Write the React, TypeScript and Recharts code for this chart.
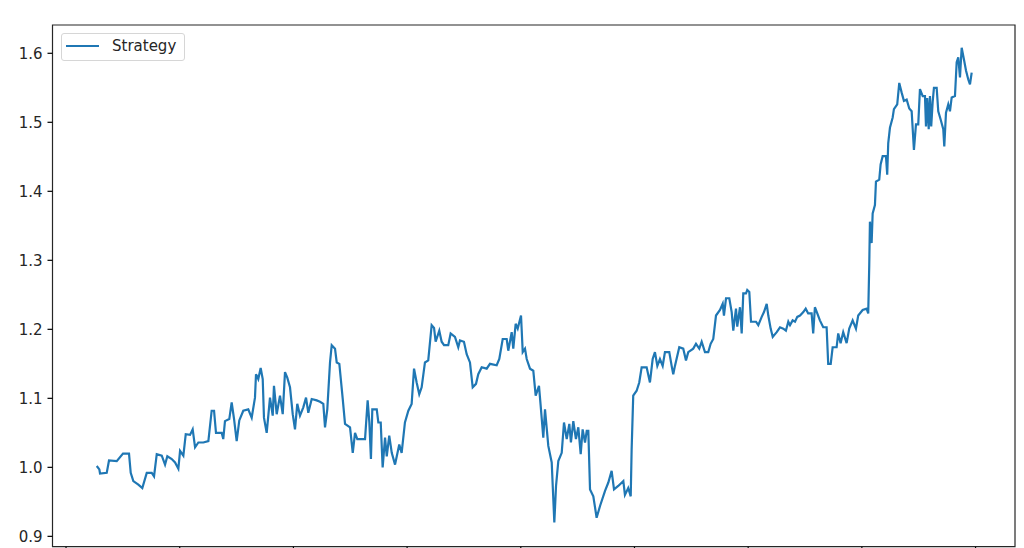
import React from 'react';
import { LineChart, Line, XAxis, YAxis, Legend, ReferenceArea } from 'recharts';

// Time in years since the start of 2015 (x axis)
const yearOffset = [
  0.270, 0.293, 0.299, 0.358, 0.378, 0.446, 0.501, 0.554, 0.569, 0.592, 0.636, 0.671, 0.710, 0.754, 0.774, 0.798,
  0.842, 0.871, 0.891, 0.930, 0.959, 0.988, 1.003, 1.032, 1.053, 1.091, 1.114, 1.135, 1.164, 1.208, 1.252, 1.281,
  1.302, 1.319, 1.369, 1.383, 1.398, 1.436, 1.457, 1.478, 1.501, 1.524, 1.559, 1.603, 1.633, 1.662, 1.671, 1.691,
  1.712, 1.730, 1.741, 1.765, 1.794, 1.818, 1.829, 1.853, 1.882, 1.906, 1.926, 1.946, 1.970, 1.994, 2.014, 2.034,
  2.058, 2.087, 2.111, 2.131, 2.161, 2.205, 2.234, 2.263, 2.278, 2.298, 2.322, 2.337, 2.366, 2.381, 2.404, 2.434,
  2.454, 2.498, 2.522, 2.542, 2.562, 2.630, 2.653, 2.668, 2.682, 2.694, 2.733, 2.747, 2.768, 2.785, 2.806, 2.821,
  2.843, 2.865, 2.894, 2.931, 2.952, 2.981, 3.011, 3.040, 3.061, 3.084, 3.107, 3.128, 3.157, 3.186, 3.216, 3.237,
  3.251, 3.283, 3.304, 3.325, 3.362, 3.383, 3.421, 3.450, 3.465, 3.500, 3.524, 3.553, 3.577, 3.606, 3.626, 3.656,
  3.700, 3.729, 3.788, 3.811, 3.841, 3.876, 3.890, 3.920, 3.934, 3.955, 3.973, 4.002, 4.017, 4.037, 4.052, 4.081,
  4.110, 4.131, 4.160, 4.175, 4.198, 4.213, 4.242, 4.272, 4.295, 4.310, 4.330, 4.360, 4.380, 4.404, 4.427, 4.441,
  4.462, 4.485, 4.506, 4.527, 4.544, 4.565, 4.580, 4.594, 4.609, 4.638, 4.667, 4.697, 4.741, 4.770, 4.799, 4.820,
  4.857, 4.902, 4.916, 4.945, 4.967, 4.975, 4.989, 5.019, 5.042, 5.063, 5.107, 5.136, 5.160, 5.180, 5.201, 5.224,
  5.248, 5.268, 5.306, 5.327, 5.341, 5.356, 5.394, 5.429, 5.453, 5.473, 5.517, 5.541, 5.570, 5.591, 5.620, 5.649,
  5.670, 5.693, 5.717, 5.752, 5.776, 5.787, 5.805, 5.834, 5.855, 5.869, 5.893, 5.904, 5.928, 5.943, 5.957, 5.981,
  5.992, 6.010, 6.025, 6.069, 6.089, 6.119, 6.139, 6.163, 6.177, 6.198, 6.216, 6.251, 6.280, 6.309, 6.332, 6.353,
  6.368, 6.391, 6.412, 6.432, 6.456, 6.485, 6.506, 6.528, 6.558, 6.572, 6.587, 6.608, 6.631, 6.660, 6.690, 6.704,
  6.726, 6.743, 6.778, 6.792, 6.813, 6.836, 6.866, 6.889, 6.919, 6.948, 6.968, 7.007, 7.042, 7.056, 7.065, 7.071,
  7.086, 7.095, 7.115, 7.124, 7.153, 7.165, 7.183, 7.212, 7.223, 7.232, 7.247, 7.271, 7.282, 7.311, 7.329, 7.350,
  7.370, 7.394, 7.417, 7.438, 7.458, 7.476, 7.496, 7.511, 7.535, 7.555, 7.564, 7.575, 7.588, 7.599, 7.610, 7.623,
  7.634, 7.658, 7.672, 7.693, 7.716, 7.725, 7.740, 7.760, 7.775, 7.790, 7.819, 7.834, 7.848, 7.863, 7.878, 7.898,
  7.916, 7.936, 7.951, 7.966,
];

// Strategy equity values
const strategy = [
  1.002, 0.997, 0.991, 0.992, 1.010, 1.009, 1.020, 1.020, 0.992, 0.980, 0.975, 0.970, 0.992, 0.992, 0.987, 1.019,
  1.017, 1.004, 1.016, 1.012, 1.007, 0.998, 1.024, 1.017, 1.048, 1.047, 1.055, 1.029, 1.036, 1.036, 1.038, 1.082,
  1.082, 1.050, 1.050, 1.041, 1.067, 1.070, 1.094, 1.070, 1.038, 1.068, 1.082, 1.084, 1.072, 1.101, 1.135, 1.128,
  1.144, 1.128, 1.072, 1.050, 1.101, 1.075, 1.118, 1.077, 1.104, 1.077, 1.138, 1.130, 1.116, 1.077, 1.055, 1.092,
  1.075, 1.087, 1.101, 1.079, 1.099, 1.097, 1.095, 1.092, 1.058, 1.084, 1.152, 1.177, 1.172, 1.152, 1.150, 1.099,
  1.063, 1.058, 1.021, 1.050, 1.041, 1.041, 1.097, 1.065, 1.012, 1.084, 1.084, 1.065, 1.065, 1.000, 1.043, 1.016,
  1.046, 1.021, 1.004, 1.033, 1.021, 1.065, 1.082, 1.092, 1.143, 1.123, 1.106, 1.116, 1.152, 1.155, 1.206, 1.202,
  1.182, 1.198, 1.182, 1.177, 1.177, 1.194, 1.189, 1.174, 1.184, 1.182, 1.164, 1.152, 1.116, 1.121, 1.135, 1.145,
  1.143, 1.150, 1.148, 1.157, 1.186, 1.186, 1.169, 1.196, 1.172, 1.208, 1.201, 1.220, 1.167, 1.172, 1.157, 1.143,
  1.140, 1.104, 1.118, 1.089, 1.043, 1.084, 1.031, 1.007, 0.920, 0.973, 1.009, 1.021, 1.065, 1.041, 1.063, 1.036,
  1.067, 1.041, 1.058, 1.019, 1.055, 1.036, 1.053, 1.053, 0.968, 0.958, 0.927, 0.944, 0.966, 0.978, 0.995, 0.968,
  0.973, 0.980, 0.960, 0.970, 0.958, 1.026, 1.104, 1.111, 1.123, 1.145, 1.145, 1.123, 1.157, 1.167, 1.147, 1.157,
  1.147, 1.167, 1.167, 1.147, 1.135, 1.147, 1.174, 1.172, 1.155, 1.167, 1.172, 1.179, 1.172, 1.182, 1.167, 1.167,
  1.179, 1.186, 1.220, 1.228, 1.237, 1.220, 1.245, 1.245, 1.225, 1.198, 1.230, 1.204, 1.232, 1.194, 1.252, 1.252,
  1.257, 1.254, 1.211, 1.211, 1.206, 1.218, 1.225, 1.237, 1.220, 1.201, 1.189, 1.196, 1.203, 1.201, 1.198, 1.211,
  1.206, 1.213, 1.211, 1.218, 1.220, 1.225, 1.230, 1.223, 1.223, 1.194, 1.232, 1.223, 1.213, 1.203, 1.203, 1.150,
  1.150, 1.174, 1.174, 1.194, 1.180, 1.196, 1.180, 1.201, 1.213, 1.201, 1.220, 1.228, 1.230, 1.223, 1.293, 1.356,
  1.325, 1.368, 1.380, 1.414, 1.417, 1.439, 1.451, 1.451, 1.424, 1.470, 1.492, 1.507, 1.519, 1.526, 1.557, 1.543,
  1.531, 1.533, 1.520, 1.516, 1.460, 1.497, 1.497, 1.548, 1.538, 1.538, 1.494, 1.535, 1.490, 1.538, 1.494, 1.530,
  1.550, 1.550, 1.516, 1.504, 1.490, 1.465, 1.514, 1.526, 1.516, 1.536, 1.538, 1.587, 1.594, 1.565, 1.608, 1.591,
  1.575, 1.562, 1.555, 1.572,
];

const startYear = 2015;
const xTicks = [2015, 2016, 2017, 2018, 2019, 2020, 2021, 2022, 2023];
const yTicks = [0.9, 1.0, 1.1, 1.2, 1.3, 1.4, 1.5, 1.6];
const xDomain: [number, number] = [2014.881, 2023.347];
const yDomain: [number, number] = [0.885, 1.641];
const seriesName = 'Strategy';

const data = yearOffset.map((o, i) => ({ t: startYear + o, v: strategy[i] }));

const FONT = '"DejaVu Sans", sans-serif';
const LINE_COLOR = '#1f77b4';

const LegendBox = () => (
  <div
    style={{
      boxSizing: 'border-box',
      width: 124,
      height: 28,
      border: '1px solid #d6d6d6',
      borderRadius: 3,
      background: 'rgba(255,255,255,0.8)',
      position: 'relative',
      fontFamily: FONT,
      fontSize: 15,
      color: '#262626',
    }}
  >
    <svg width={40} height={26} style={{ position: 'absolute', left: 3, top: 0 }}>
      <line x1={1} y1={12} x2={34} y2={12} stroke={LINE_COLOR} strokeWidth={2.2} />
    </svg>
    <span style={{ position: 'absolute', left: 50, top: 3, lineHeight: '18px', whiteSpace: 'nowrap' }}>
      {seriesName}
    </span>
  </div>
);

// The x tick labels fall below the visible area in the reference, so only tick marks are drawn.
const EmptyTick = () => <g />;

export default function App() {
  return (
    <div
      style={{
        position: 'fixed',
        top: 0,
        left: 0,
        width: 1024,
        height: 548,
        overflow: 'hidden',
        background: '#fff',
      }}
    >
      <LineChart
        width={1024}
        height={600}
        data={data}
        margin={{ top: 25, right: 9, bottom: 23.3, left: 0 }}
      >
        <XAxis
          dataKey="t"
          type="number"
          domain={xDomain}
          ticks={xTicks}
          allowDataOverflow
          axisLine={false}
          tickSize={5}
          height={30}
          tick={EmptyTick}
          tickLine={{ stroke: '#000', strokeWidth: 1.2 }}
        />
        <YAxis
          type="number"
          domain={yDomain}
          ticks={yTicks}
          allowDataOverflow
          width={52.5}
          axisLine={false}
          tickSize={5}
          tickMargin={5}
          tickFormatter={(v: number) => v.toFixed(1)}
          tickLine={{ stroke: '#000', strokeWidth: 1.2 }}
          tick={{ fill: '#262626', fontSize: 15, fontFamily: FONT }}
        />
        <ReferenceArea
          x1={xDomain[0]}
          x2={xDomain[1]}
          y1={yDomain[0]}
          y2={yDomain[1]}
          fill="none"
          stroke="#262626"
          strokeWidth={1.2}
          ifOverflow="visible"
        />
        <Legend
          layout="horizontal"
          align="center"
          verticalAlign="middle"
          content={() => <LegendBox />}
          wrapperStyle={{ position: 'absolute', left: 61, top: 33, width: 'auto', height: 'auto' }}
        />
        <Line
          type="linear"
          dataKey="v"
          name={seriesName}
          stroke={LINE_COLOR}
          strokeWidth={2.2}
          dot={false}
          isAnimationActive={false}
          strokeLinejoin="miter"
        />
      </LineChart>
    </div>
  );
}
